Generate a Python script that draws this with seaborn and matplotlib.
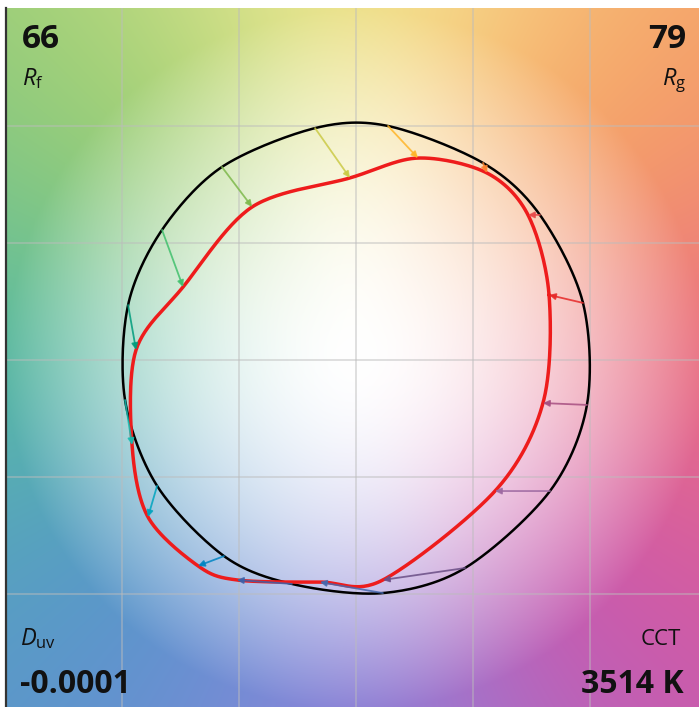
import numpy as np
import matplotlib
matplotlib.use('Agg')
import matplotlib.pyplot as plt
import seaborn as sns

sns.set_theme(style='white')
plt.rcParams['font.family'] = ['Open Sans', 'DejaVu Sans']
plt.rcParams['mathtext.fontset'] = 'custom'
plt.rcParams['mathtext.rm'] = 'Open Sans'
plt.rcParams['mathtext.it'] = 'Open Sans:italic'

# 16 hue bins: reference (black) and test (red) points, normalised a'b' plane
hue_bins = list(range(1, 17))
ref_x = [0.970, 0.786, 0.543, 0.137, -0.175, -0.573, -0.829, -0.974,
         -0.987, -0.850, -0.564, -0.274, 0.115, 0.466, 0.829, 0.987]
ref_y = [0.244, 0.620, 0.842, 1.000, 0.991, 0.825, 0.556, 0.235,
         -0.171, -0.538, -0.838, -0.957, -0.996, -0.889, -0.560, -0.192]
test_x = [0.825, 0.735, 0.560, 0.265, -0.026, -0.444, -0.739, -0.940,
          -0.957, -0.889, -0.675, -0.509, -0.154, 0.115, 0.594, 0.799]
test_y = [0.278, 0.620, 0.799, 0.863, 0.778, 0.654, 0.312, 0.043,
          -0.363, -0.671, -0.880, -0.940, -0.949, -0.940, -0.560, -0.184]
bin_colors = ['#e62828', '#e74b4b', '#fb812e', '#ffb529', '#cbca46', '#7eb94c',
              '#41c06d', '#009c7c', '#16bcb0', '#00a4bf', '#0085c3', '#3b62aa',
              '#4568ae', '#6a4e85', '#9d69a1', '#a74f81']

rf_value = '66'
rg_value = '79'
duv_value = '-0.0001'
cct_value = '3514 K'

# background hue anchors every 45 degrees (starting at +a' axis)
bg_colors = [(236, 112, 132), (246, 162, 96), (250, 240, 155), (155, 205, 110),
             (85, 188, 165), (85, 148, 205), (140, 135, 222), (205, 82, 172)]


def closed_spline(x, y, n=30, tension=0.08):
    # periodic cardinal spline through the bin points
    p = np.column_stack([x, y])
    m = len(p)
    s = np.linspace(0, 1, n, endpoint=False)[:, None]
    h00 = 2 * s ** 3 - 3 * s ** 2 + 1
    h10 = s ** 3 - 2 * s ** 2 + s
    h01 = -2 * s ** 3 + 3 * s ** 2
    h11 = s ** 3 - s ** 2
    k = (1 - tension) / 2
    segs = []
    for i in range(m):
        p0, p1, p2, p3 = p[(i - 1) % m], p[i], p[(i + 1) % m], p[(i + 2) % m]
        m1 = k * (p2 - p0)
        m2 = k * (p3 - p1)
        segs.append(h00 * p1 + h10 * m1 + h01 * p2 + h11 * m2)
    segs.append(p[:1])
    out = np.vstack(segs)
    return out[:, 0], out[:, 1]


fig = plt.figure(figsize=(6.99, 7.07), dpi=100)
ax = fig.add_axes([6 / 699, 0, 693 / 699, 699 / 707])

# background colour wheel, smooth blend between hue anchors
g = np.linspace(-1.6, 1.6, 500)
X, Y = np.meshgrid(g, g)
ang = np.arctan2(Y, X)
r = np.hypot(X, Y)
anchor_ang = np.radians(np.arange(0, 360, 45))
anchors = np.array(bg_colors) / 255
w = np.exp(6.0 * np.cos(ang[..., None] - anchor_ang))
w /= w.sum(axis=-1, keepdims=True)
rgb = w @ anchors
t = np.clip(r / 1.5, 0, 1) ** 1.75
img = 1 - t[..., None] * (1 - rgb)
ax.imshow(img, extent=(-1.6, 1.6, -1.6, 1.6), origin='lower', aspect='auto',
          interpolation='bilinear', zorder=0)

# curves
rx, ry = closed_spline(ref_x, ref_y)
tx, ty = closed_spline(test_x, test_y)
sns.lineplot(x=rx, y=ry, sort=False, estimator=None, color='black', lw=1.8, ax=ax, zorder=3)
sns.lineplot(x=tx, y=ty, sort=False, estimator=None, color='#ee1c1c', lw=2.5, ax=ax, zorder=4)

# shift arrows
for i in range(len(hue_bins)):
    ax.annotate('', xy=(test_x[i], test_y[i]), xytext=(ref_x[i], ref_y[i]),
                arrowprops=dict(arrowstyle='-|>', color=bin_colors[i], lw=1.3,
                                mutation_scale=9, shrinkA=0, shrinkB=0, alpha=0.85),
                zorder=5)

ax.set_xlim(-350 / 234, 343 / 234)
ax.set_ylim(-347 / 234, 352 / 234)
ax.set_xticks([-1, -0.5, 0, 0.5, 1])
ax.set_yticks([-1, -0.5, 0, 0.5, 1])
ax.set_xticklabels([])
ax.set_yticklabels([])
ax.tick_params(length=0)
ax.grid(True, color='#bcbcbc', lw=1.2, alpha=0.55)
for s in ['top', 'right', 'bottom']:
    ax.spines[s].set_visible(False)
ax.spines['left'].set_color('#333333')
ax.spines['left'].set_linewidth(1.6)

# metric labels
W, H = 699, 707
fig.text(22 / W, 1 - 48 / H, rf_value, fontsize=24, fontweight='bold', color='#111111', va='baseline')
fig.text(22 / W, 1 - 85 / H, r'$R_\mathrm{f}$', fontsize=17, color='#111111', va='baseline')
fig.text(686 / W, 1 - 48 / H, rg_value, fontsize=24, fontweight='bold', color='#111111',
         va='baseline', ha='right')
fig.text(686 / W, 1 - 85 / H, r'$R_\mathrm{g}$', fontsize=17, color='#111111', va='baseline', ha='right')
fig.text(20 / W, 1 - 645 / H, r'$D_\mathrm{uv}$', fontsize=17, color='#111111', va='baseline')
fig.text(20 / W, 1 - 693 / H, duv_value, fontsize=23, fontweight='bold', color='#111111', va='baseline')
fig.text(681 / W, 1 - 645 / H, 'CCT', fontsize=16, color='#111111', va='baseline', ha='right')
fig.text(684 / W, 1 - 693 / H, cct_value, fontsize=23, fontweight='bold', color='#111111',
         va='baseline', ha='right')

fig.savefig('out.png', dpi=100)
